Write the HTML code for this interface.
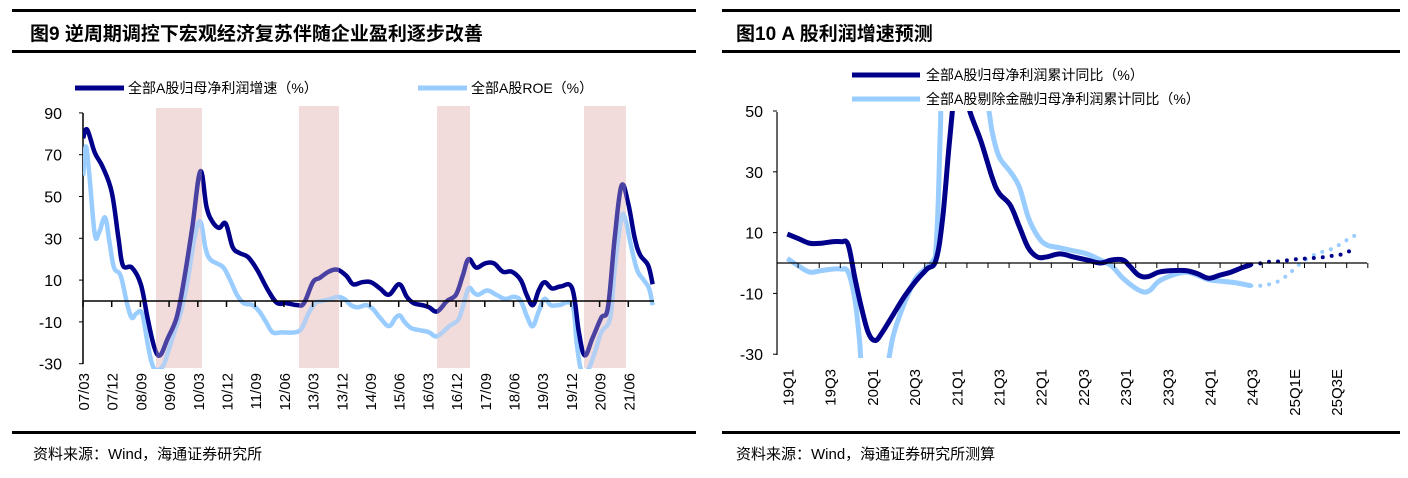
<!DOCTYPE html>
<html><head><meta charset="utf-8">
<style>
body{margin:0;background:#fff;width:1408px;height:473px;overflow:hidden;font-family:"Liberation Sans","Noto Sans CJK SC",sans-serif}
svg text{font-family:"Liberation Sans","Noto Sans CJK SC",sans-serif}
</style></head><body>
<svg id="s" width="1408" height="473" xmlns="http://www.w3.org/2000/svg">
<defs>
<clipPath id="cl"><rect x="83" y="100" width="572" height="269"/></clipPath>
<clipPath id="cr"><rect x="778" y="111" width="600" height="247"/></clipPath>
</defs>
<rect x="12" y="9" width="684" height="3" fill="#000"/>
<rect x="12" y="50" width="684" height="3" fill="#000"/>
<rect x="12" y="431" width="684" height="3" fill="#000"/>
<rect x="722" y="9" width="678" height="3" fill="#000"/>
<rect x="722" y="50" width="678" height="3" fill="#000"/>
<rect x="722" y="431" width="678" height="3" fill="#000"/>
<text x="30" y="40" font-size="19" font-weight="bold">图9  逆周期调控下宏观经济复苏伴随企业盈利逐步改善</text>
<text x="736" y="40" font-size="19" font-weight="bold">图10 A 股利润增速预测</text>
<text x="33" y="459" font-size="15">资料来源：Wind，海通证券研究所</text>
<text x="736" y="459" font-size="15">资料来源：Wind，海通证券研究所测算</text>
<line x1="75" y1="88" x2="124" y2="88" stroke="#00008b" stroke-width="5"/>
<text x="128" y="93" font-size="14">全部A股归母净利润增速（%）</text>
<line x1="418" y1="88" x2="467" y2="88" stroke="#99ccff" stroke-width="5"/>
<text x="471" y="93" font-size="14">全部A股ROE（%）</text>
<line x1="852" y1="75" x2="920" y2="75" stroke="#00008b" stroke-width="5"/>
<text x="926" y="80" font-size="14">全部A股归母净利润累计同比（%）</text>
<line x1="852" y1="99" x2="920" y2="99" stroke="#99ccff" stroke-width="5"/>
<text x="926" y="104" font-size="14">全部A股剔除金融归母净利润累计同比（%）</text>
<g fill="#f2dcdb">
<rect x="156" y="108" width="46" height="260"/>
<rect x="299" y="106" width="40" height="262"/>
<rect x="437" y="106" width="33" height="262"/>
<rect x="584" y="106" width="42" height="262"/>
</g>
<g id="g"></g>
</svg>
<script>
const NS="http://www.w3.org/2000/svg",g=document.getElementById('g');
function el(t,a,txt){const e=document.createElementNS(NS,t);for(const k in a)e.setAttribute(k,a[k]);if(txt!==undefined)e.textContent=txt;g.appendChild(e);return e;}
function path(p){let d="M"+p[0][0]+","+p[0][1];for(let i=0;i<p.length-1;i++){const p0=p[i-1]||p[i],p1=p[i],p2=p[i+1],p3=p[i+2]||p2;const t=0.18;
d+=" C"+(p1[0]+(p2[0]-p0[0])*t)+","+(p1[1]+(p2[1]-p0[1])*t)+" "+(p2[0]-(p3[0]-p1[0])*t)+","+(p2[1]-(p3[1]-p1[1])*t)+" "+p2[0]+","+p2[1];}return d;}
const LY=v=>301-v*2.09, LX=z=>z/2.237;
el('line',{x1:83,y1:113,x2:83,y2:364,stroke:'#000','stroke-width':1.5});
[90,70,50,30,10,-10,-30].forEach(v=>{el('line',{x1:79,y1:LY(v),x2:83,y2:LY(v),stroke:'#000'});el('text',{x:62,y:LY(v)+6,'font-size':16,'text-anchor':'end'},v);});
const dl=[[186,78],[195,82],[212,71],[230,64],[250,52],[265,30],[275,17],[295,16],[315,8],[330,-8],[345,-22],[358,-26],[375,-18],[395,-8],[410,8],[430,35],[448,62],[462,45],[475,38],[490,35],[505,37],[520,26],[535,23],[555,21],[575,15],[600,5],[620,-1],[640,-1],[665,-2],[680,-1],[700,9],[715,11],[735,14],[755,15],[775,12],[790,8],[810,9],[830,9],[850,6],[870,3],[893,8],[910,2],[925,-1],[945,-2],[960,-3],[978,-5],[1000,0],[1020,3],[1035,12],[1048,20],[1065,16],[1085,18],[1105,18],[1125,14],[1145,14],[1165,10],[1178,3],[1192,-2],[1205,5],[1218,9],[1235,6],[1255,7],[1280,6],[1295,-15],[1308,-26],[1325,-18],[1345,-8],[1360,-3],[1375,30],[1390,55],[1405,47],[1420,30],[1432,22],[1450,17],[1460,8]];
const ll=[[186,60],[192,74],[200,60],[212,32],[222,33],[235,40],[245,28],[255,16],[270,12],[285,-2],[295,-8],[305,-6],[318,-6],[330,-20],[340,-30],[350,-33],[365,-31],[375,-25],[390,-15],[405,-5],[420,10],[435,30],[448,38],[460,25],[470,20],[485,18],[500,16],[515,10],[530,3],[545,-1],[565,-2],[580,-5],[595,-10],[610,-15],[630,-15],[660,-15],[675,-13],[690,-6],[705,-1],[720,0],[740,1],[755,2],[770,1],[785,-2],[800,-3],[820,-2],[835,-4],[850,-8],[870,-12],[885,-8],[895,-7],[905,-10],[920,-13],[940,-14],[960,-15],[975,-17],[990,-15],[1005,-12],[1025,-9],[1035,-3],[1048,6],[1060,4],[1070,3],[1090,5],[1110,3],[1130,1],[1150,2],[1165,0],[1180,-8],[1192,-12],[1205,-5],[1218,1],[1232,-2],[1250,-2],[1280,-2],[1290,-20],[1300,-33],[1315,-33],[1330,-25],[1345,-15],[1365,-8],[1375,15],[1390,40],[1400,38],[1410,28],[1425,15],[1440,10],[1452,6],[1460,-2]];
const lc=el('g',{'clip-path':'url(#cl)'});
function addTo(parent,t,a){const e=document.createElementNS(NS,t);for(const k in a)e.setAttribute(k,a[k]);parent.appendChild(e);return e;}
addTo(lc,'path',{d:path(ll.map(p=>[LX(p[0]),LY(p[1])])),fill:'none',stroke:'#99ccff','stroke-width':4.5,'stroke-linejoin':'round'});
addTo(lc,'path',{d:path(dl.map(p=>[LX(p[0]),LY(p[1])])),fill:'none',stroke:'#00008b','stroke-width':4.5,'stroke-linejoin':'round'});
[[156,46],[299,40],[437,33],[584,42]].forEach(b=>addTo(lc,'rect',{x:b[0],y:108,width:b[1],height:260,fill:'#f2dcdb',opacity:0.3}));
el('line',{x1:83,y1:301,x2:654,y2:301,stroke:'#000','stroke-width':1.5});
const labs=["07/03","07/12","08/09","09/06","10/03","10/12","11/09","12/06","13/03","13/12","14/09","15/06","16/03","16/12","17/09","18/06","19/03","19/12","20/09","21/06"];
labs.forEach((l,i)=>{const x=83+i*28.7;el('line',{x1:x,y1:301,x2:x,y2:307,stroke:'#000','stroke-width':1.5});
el('text',{x:0,y:0,'font-size':15,'text-anchor':'end',transform:`translate(${x+6},373) rotate(-90)`},l);});
const RY=v=>263-v*3.04, RX=z=>704+z/2.22;
el('line',{x1:777,y1:112,x2:777,y2:355,stroke:'#000','stroke-width':1.2});
[50,30,10,-10,-30].forEach(v=>{el('line',{x1:773,y1:RY(v),x2:777,y2:RY(v),stroke:'#000'});el('text',{x:763,y:RY(v)+6,'font-size':16,'text-anchor':'end'},v);});
const dr=[[185,9.5],[210,8],[235,6.5],[260,6.5],[285,7],[305,7],[320,6],[335,-5],[350,-15],[365,-23],[380,-25.5],[395,-23],[420,-17],[445,-11],[470,-6],[495,-2],[515,1],[530,15],[545,40],[560,60],[575,60],[590,50],[615,40],[640,28],[655,23],[680,19],[700,12],[720,5],[740,2],[760,2],[790,3],[820,2],[850,1],[880,0],[905,1],[930,1],[945,-1],[965,-4],[985,-4.5],[1010,-3],[1040,-2.5],[1070,-2.5],[1095,-3.5],[1120,-5],[1145,-4],[1170,-3],[1195,-1.5],[1215,-0.5]];
const drd=[[1215,-0.5],[1240,0],[1260,0.5],[1280,0.5],[1300,1],[1320,1.3],[1340,1.5],[1360,1.7],[1380,2],[1400,2.5],[1420,3],[1440,4.5]];
const lr=[[185,1.5],[210,-1],[235,-3],[260,-2.5],[285,-2],[305,-2],[320,-3],[335,-12],[345,-25],[352,-35],[380,-45],[405,-35],[420,-24],[440,-15],[460,-8],[470,-5],[490,-2],[510,1],[515,5],[520,20],[525,45],[532,65],[580,75],[625,55],[640,43],[655,35],[680,30],[700,25],[720,15],[740,9],[760,6],[790,5],[820,4],[850,3],[880,1],[905,-1],[930,-5],[955,-8],[975,-9.5],[990,-9],[1010,-6],[1040,-4],[1070,-3],[1095,-4],[1120,-5.5],[1150,-6],[1180,-6.5],[1215,-7.5]];
const lrd=[[1215,-7.5],[1235,-7.5],[1255,-7],[1275,-6],[1295,-4],[1310,-2],[1325,0],[1340,1.5],[1360,3],[1380,4],[1400,5],[1420,7],[1440,8.5],[1450,10]];
const rc=el('g',{'clip-path':'url(#cr)'});
el('line',{x1:777,y1:263,x2:1367,y2:263,stroke:'#000','stroke-width':1.2});
for(let i=0;i<=28;i++){const x=777+i*21.1;el('line',{x1:x,y1:263,x2:x,y2:268,stroke:'#000'});}
addTo(rc,'path',{d:path(lr.map(p=>[RX(p[0]),RY(p[1])])),fill:'none',stroke:'#99ccff','stroke-width':5,'stroke-linejoin':'round'});
addTo(rc,'path',{d:path(dr.map(p=>[RX(p[0]),RY(p[1])])),fill:'none',stroke:'#00008b','stroke-width':5,'stroke-linejoin':'round'});
addTo(rc,'path',{d:path(lrd.map(p=>[RX(p[0]),RY(p[1])])),fill:'none',stroke:'#99ccff','stroke-width':4,'stroke-dasharray':'0 9','stroke-linecap':'round'});
addTo(rc,'path',{d:path(drd.map(p=>[RX(p[0]),RY(p[1])])),fill:'none',stroke:'#00008b','stroke-width':4,'stroke-dasharray':'0 9','stroke-linecap':'round'});
const rl=["19Q1","19Q3","20Q1","20Q3","21Q1","21Q3","22Q1","22Q3","23Q1","23Q3","24Q1","24Q3","25Q1E","25Q3E"];
rl.forEach((l,i)=>{const x=787.5+i*42.2;el('text',{x:0,y:0,'font-size':15,'text-anchor':'end',transform:`translate(${x+6},369) rotate(-90)`},l);});
</script>
</body></html>
